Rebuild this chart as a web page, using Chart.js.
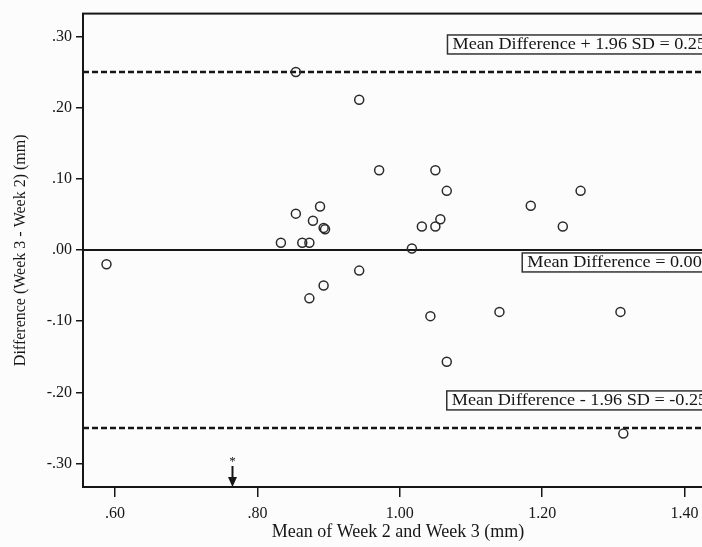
<!DOCTYPE html>
<html>
<head>
<meta charset="utf-8">
<script src="https://cdn.jsdelivr.net/npm/chart.js@4"></script>
<style>
    html, body { margin: 0; padding: 0; overflow: hidden; background: #fcfcfc; }
    canvas { display: block; }
</style>
</head>
<body>
<canvas id="baChart" width="730" height="547"></canvas>
<script>
// Bland-Altman data: mean of week 2 and week 3 (x), difference week 3 - week 2 (y)
const meanVals = [0.588, 0.833, 0.854, 0.854, 0.863, 0.873, 0.873, 0.878, 0.888, 0.893,
                  0.895, 0.893, 0.943, 0.943, 0.971, 1.017, 1.031, 1.043, 1.050, 1.050,
                  1.057, 1.066, 1.066, 1.140, 1.184, 1.229, 1.254, 1.310, 1.314];
const diffVals = [-0.020, 0.010, 0.250, 0.051, 0.010, 0.010, -0.068, 0.041, 0.061, 0.031,
                  0.029, -0.050, 0.211, -0.029, 0.112, 0.002, 0.033, -0.093, 0.112, 0.033,
                  0.043, 0.083, -0.157, -0.087, 0.062, 0.033, 0.083, -0.087, -0.258];

const xTicks = [0.6, 0.8, 1.0, 1.2, 1.4];
const yTicks = [-0.3, -0.2, -0.1, 0.0, 0.1, 0.2, 0.3];

// mean difference and limits of agreement
const refLines = [0.25, 0.00, -0.25];
const refLabels = ['Mean Difference + 1.96 SD = 0.25', 'Mean Difference = 0.00', 'Mean Difference - 1.96 SD = -0.25'];
const flaggedMean = 0.765; // the * arrow on the x axis

const ink = '#161616';
const serif = '"Liberation Serif", "Times New Roman", serif';

function fmt(v) {
    return v.toFixed(2).replace(/^(-?)0\./, '$1.');
}

const blandAltman = {
    id: 'blandAltman',
    beforeDraw(chart) {
        const ctx = chart.ctx;
        ctx.save();
        ctx.fillStyle = '#fcfcfc';
        ctx.fillRect(0, 0, chart.width, chart.height);
        ctx.restore();
    },
    beforeDatasetsDraw(chart) {
        const { ctx, chartArea: a, scales: { y } } = chart;
        ctx.save();
        ctx.strokeStyle = ink;
        refLines.forEach(v => {
            const py = y.getPixelForValue(v);
            ctx.lineWidth = v === 0 ? 2 : 2.5;
            ctx.setLineDash(v === 0 ? [] : [6, 3]);
            ctx.beginPath();
            ctx.moveTo(a.left, py);
            ctx.lineTo(a.right, py);
            ctx.stroke();
        });
        ctx.restore();
    },
    afterDatasetsDraw(chart) {
        const { ctx, chartArea: a, scales: { x, y } } = chart;
        ctx.save();

        // label boxes (left edge in x units, top relative to the line)
        const boxLeft = [1.067, 1.172, 1.066];
        const boxTop = [-37, 3, -37];
        const stretch = 1.07; // the scan is a bit wider than the font
        ctx.font = '17px ' + serif;
        ctx.textBaseline = 'middle';
        refLabels.forEach((txt, i) => {
            const bx = x.getPixelForValue(boxLeft[i]);
            const by = y.getPixelForValue(refLines[i]) + boxTop[i];
            const w = ctx.measureText(txt).width * stretch + 12;
            ctx.fillStyle = '#fdfdfd';
            ctx.fillRect(bx, by, w, 19);
            ctx.strokeStyle = '#333';
            ctx.lineWidth = 1.5;
            ctx.strokeRect(bx, by, w, 19);
            ctx.save();
            ctx.translate(bx + 5, by + 10);
            ctx.scale(stretch, 1);
            ctx.fillStyle = ink;
            ctx.fillText(txt, 0, 0);
            ctx.restore();
        });

        // frame around the plot
        ctx.strokeStyle = ink;
        ctx.lineWidth = 2;
        ctx.strokeRect(a.left, a.top, a.right - a.left, a.bottom - a.top);

        // flagged arrow
        const px = x.getPixelForValue(flaggedMean);
        ctx.fillStyle = ink;
        ctx.font = '13px ' + serif;
        ctx.textAlign = 'center';
        ctx.fillText('*', px, a.bottom - 25);
        ctx.lineWidth = 2;
        ctx.beginPath();
        ctx.moveTo(px, a.bottom - 21);
        ctx.lineTo(px, a.bottom - 8);
        ctx.stroke();
        ctx.beginPath();
        ctx.moveTo(px - 4.5, a.bottom - 10);
        ctx.lineTo(px + 4.5, a.bottom - 10);
        ctx.lineTo(px, a.bottom);
        ctx.closePath();
        ctx.fill();
        ctx.restore();
    }
};

const points = meanVals.map((m, i) => ({ x: m, y: diffVals[i] }));

new Chart(document.getElementById('baChart'), {
    type: 'scatter',
    data: {
        datasets: [{
            data: points,
            pointRadius: 4.5,
            pointBorderWidth: 1.5,
            borderColor: '#2a2a2a',
            backgroundColor: 'rgba(0,0,0,0)'
        }]
    },
    options: {
        responsive: false,
        animation: false,
        events: [],
        layout: { padding: { top: 10.7, right: 17, bottom: 0, left: 0 } },
        plugins: {
            legend: { display: false },
            tooltip: { enabled: false }
        },
        scales: {
            x: {
                type: 'linear',
                min: 0.555,
                max: 1.44,
                afterBuildTicks: s => { s.ticks = xTicks.map(v => ({ value: v })); },
                afterFit: s => { s.height = 60; },
                ticks: {
                    callback: v => fmt(v),
                    color: ink,
                    padding: 7,
                    font: { family: serif, size: 16 }
                },
                grid: { drawOnChartArea: false, tickLength: 10, color: ink, lineWidth: 1.5 },
                border: { display: true, color: ink, width: 2 },
                title: {
                    display: true,
                    text: 'Mean of Week 2 and Week 3 (mm)',
                    color: ink,
                    padding: { top: 0, bottom: 4 },
                    font: { family: serif, size: 18 }
                }
            },
            y: {
                min: -0.333,
                max: 0.332,
                afterBuildTicks: s => { s.ticks = yTicks.map(v => ({ value: v })); },
                afterFit: s => { s.width = 83; },
                ticks: {
                    callback: v => fmt(v),
                    color: ink,
                    padding: 4,
                    font: { family: serif, size: 16 }
                },
                grid: { drawOnChartArea: false, tickLength: 7, color: ink, lineWidth: 1.5 },
                border: { display: true, color: ink, width: 2 },
                title: {
                    display: true,
                    text: 'Difference (Week 3 - Week 2) (mm)',
                    color: ink,
                    padding: { top: 11, bottom: 0 },
                    font: { family: serif, size: 16 }
                }
            }
        }
    },
    plugins: [blandAltman]
});
</script>
</body>
</html>
